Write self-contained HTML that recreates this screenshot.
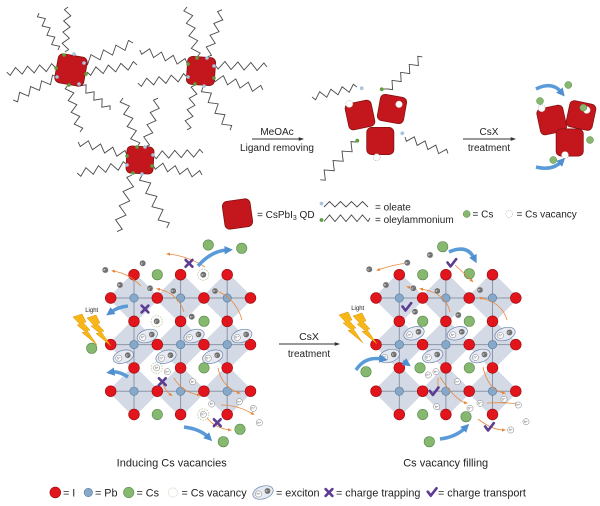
<!DOCTYPE html>
<html><head><meta charset="utf-8"><style>
html,body{margin:0;padding:0;background:#fff;}
svg{display:block;}
text{font-family:"Liberation Sans",Arial,sans-serif;fill:#222;}
</style></head><body>
<svg width="600" height="506" viewBox="0 0 600 506" xmlns="http://www.w3.org/2000/svg">
<defs>
<polyline id="z" points="0,0 3.1,3.8 9.4,-3.8 15.6,3.8 21.9,-3.8 28.1,3.8 34.4,-3.8 40.6,3.8 46.9,-3.8 50,0" fill="none" stroke="#4a4a4a" stroke-width="0.9" vector-effect="non-scaling-stroke"/>
<circle id="I" r="5.4" fill="#e3151c" stroke="#980b10" stroke-width="0.6"/>
<circle id="P" r="4.2" fill="#87a9c9" stroke="#56789a" stroke-width="0.6"/>
<circle id="C" r="5.2" fill="#86b86f" stroke="#57884a" stroke-width="0.6"/>
<circle id="c" r="3.5" fill="#86b86f" stroke="#57884a" stroke-width="0.5"/>
<circle id="V" r="5.6" fill="none" stroke="#b3bf92" stroke-width="0.7" stroke-dasharray="1.6 1.1"/>
<circle id="v" r="3.5" fill="#fff" stroke="#b0b0b0" stroke-width="0.6" stroke-dasharray="1.2 0.9"/>
<circle id="w" r="3.5" fill="#fff" stroke="#c8c8c8" stroke-width="0.5"/>
<g id="e"><circle r="3.1" fill="#6e6e6e" stroke="#eee" stroke-width="0.5"/><text y="1.2" font-size="3.4" text-anchor="middle" style="fill:#fff">e⁻</text></g>
<g id="h"><circle r="3.1" fill="#fff" stroke="#777" stroke-width="0.5"/><text y="1.2" font-size="3.4" text-anchor="middle" style="fill:#444">h⁺</text></g>
<g id="x"><ellipse rx="10.5" ry="6.3" transform="rotate(-18)" fill="#e6eaf2" stroke="#6c84ab" stroke-width="0.7"/><use href="#h" x="-4.5" y="1.5"/><use href="#e" x="4.5" y="-1.5"/></g>
<path id="T" d="M-3.4,-3.4L3.4,3.4M3.4,-3.4L-3.4,3.4" stroke="#5d3c94" stroke-width="2.6" stroke-linecap="round"/>
<path id="K" d="M-4.2,-0.8L-1.2,3.2L4.5,-4.2" fill="none" stroke="#5d3c94" stroke-width="2.6" stroke-linecap="round" stroke-linejoin="round"/>
<polygon id="dm" points="0,-26 26,0 0,26 -26,0" fill="#d4dae5"/>
<rect id="Q" x="-14" y="-14" width="28" height="28" rx="5" fill="#c3171d" stroke="#80100f" stroke-width="0.8"/>
<g id="bolt">
<polygon points="0,3 9,0 13,8 10,8.5 17,16 14,16.5 24,31 9,18.5 12.5,18 4,11 7,10.5" fill="#f7b718" stroke="#e09000" stroke-width="0.5"/>
<polygon transform="translate(14,1)" points="0,3 9,0 13,8 10,8.5 17,16 14,16.5 24,31 9,18.5 12.5,18 4,11 7,10.5" fill="#f7b718" stroke="#e09000" stroke-width="0.5"/>
<text x="18.7" y="-2" font-size="6" text-anchor="middle">Light</text>
</g>
<marker id="bh" viewBox="0 0 10 10" refX="3" refY="5" markerWidth="2.4" markerHeight="2.4" orient="auto"><path d="M0,0L10,5L0,10z" fill="#4f8fd0"/></marker>
<marker id="oh" viewBox="0 0 10 10" refX="5" refY="5" markerWidth="5" markerHeight="5" orient="auto"><path d="M0,1L10,5L0,9z" fill="#e8873a"/></marker>
<marker id="kh" viewBox="0 0 10 10" refX="8" refY="5" markerWidth="6" markerHeight="6" orient="auto"><path d="M0,1.5L10,5L0,8.5z" fill="#333"/></marker>
<g id="lat">
<use href="#dm" x="0" y="0"/><use href="#dm" x="46.6" y="0"/><use href="#dm" x="93.2" y="0"/>
<use href="#dm" x="0" y="46.6"/><use href="#dm" x="46.6" y="46.6"/><use href="#dm" x="93.2" y="46.6"/>
<use href="#dm" x="0" y="93.2"/><use href="#dm" x="46.6" y="93.2"/><use href="#dm" x="93.2" y="93.2"/>
<path d="M-23.3,0H116.5M-23.3,46.6H116.5M-23.3,93.2H116.5M0,-23.3V116.5M46.6,-23.3V116.5M93.2,-23.3V116.5" stroke="#8c96a8" stroke-width="1" fill="none"/>
<use href="#P" x="0" y="0"/><use href="#P" x="46.6" y="0"/><use href="#P" x="93.2" y="0"/>
<use href="#P" x="0" y="46.6"/><use href="#P" x="46.6" y="46.6"/><use href="#P" x="93.2" y="46.6"/>
<use href="#P" x="0" y="93.2"/><use href="#P" x="46.6" y="93.2"/><use href="#P" x="93.2" y="93.2"/>
<use href="#I" x="-23.3" y="0"/><use href="#I" x="23.3" y="0"/><use href="#I" x="69.9" y="0"/><use href="#I" x="116.5" y="0"/>
<use href="#I" x="-23.3" y="46.6"/><use href="#I" x="23.3" y="46.6"/><use href="#I" x="69.9" y="46.6"/><use href="#I" x="116.5" y="46.6"/>
<use href="#I" x="-23.3" y="93.2"/><use href="#I" x="23.3" y="93.2"/><use href="#I" x="69.9" y="93.2"/><use href="#I" x="116.5" y="93.2"/>
<use href="#I" x="0" y="-23.3"/><use href="#I" x="46.6" y="-23.3"/><use href="#I" x="93.2" y="-23.3"/>
<use href="#I" x="0" y="23.3"/><use href="#I" x="46.6" y="23.3"/><use href="#I" x="93.2" y="23.3"/>
<use href="#I" x="0" y="69.9"/><use href="#I" x="46.6" y="69.9"/><use href="#I" x="93.2" y="69.9"/>
<use href="#I" x="0" y="116.5"/><use href="#I" x="46.6" y="116.5"/><use href="#I" x="93.2" y="116.5"/>
</g>
</defs>
<rect width="600" height="506" fill="#fff"/>

<!-- ===== Top-left QDs with ligands ===== -->
<g>
<use href="#z" transform="translate(65,52) rotate(-86.2) scale(0.9)"/>
<use href="#z" transform="translate(58,50) rotate(-117.2) scale(0.83)"/>
<use href="#z" transform="translate(83,62) rotate(-20.8) scale(1.07)"/>
<use href="#z" transform="translate(87,72) rotate(-8) scale(1.01)"/>
<use href="#z" transform="translate(55,67) rotate(174) scale(0.97)"/>
<use href="#z" transform="translate(57,77) rotate(152.4) scale(0.99)"/>
<use href="#z" transform="translate(68,85) rotate(75.7) scale(0.97)"/>
<use href="#z" transform="translate(78,82) rotate(41.2) scale(0.85)"/>
<use href="#Q" transform="translate(71,70) rotate(10) scale(1.05)"/>

<use href="#z" transform="translate(197,57) rotate(-101.3) scale(1.02)"/>
<use href="#z" transform="translate(207,57) rotate(-72.3) scale(0.99)"/>
<use href="#z" transform="translate(187,63) rotate(-164.5) scale(0.98)"/>
<use href="#z" transform="translate(187,77) rotate(173) scale(0.99)"/>
<use href="#z" transform="translate(215,65) rotate(2.2) scale(1.04)"/>
<use href="#z" transform="translate(213,77) rotate(14.6) scale(1.03)"/>
<use href="#z" transform="translate(195,85) rotate(100) scale(0.91)"/>
<use href="#z" transform="translate(203,87) rotate(57.9) scale(1.02)"/>
<use href="#Q" transform="translate(201,71) rotate(4)"/>

<use href="#z" transform="translate(137,147) rotate(-105.9) scale(1.02)"/>
<use href="#z" transform="translate(145,147) rotate(-75.1) scale(1.01)"/>
<use href="#z" transform="translate(127,155) rotate(-165.1) scale(1.01)"/>
<use href="#z" transform="translate(127,165) rotate(170.9) scale(1.01)"/>
<use href="#z" transform="translate(153,155) rotate(-2.3) scale(1)"/>
<use href="#z" transform="translate(153,165) rotate(11.5) scale(1)"/>
<use href="#z" transform="translate(132,175) rotate(104.8) scale(1.17)"/>
<use href="#z" transform="translate(142,175) rotate(64.9) scale(1.17)"/>
<use href="#Q" transform="translate(140,160) rotate(3) scale(0.97)"/>

<g fill="#5e9e3e">
<circle cx="64" cy="55" r="1.8"/><circle cx="86" cy="74" r="1.8"/><circle cx="56" cy="68" r="1.8"/><circle cx="69" cy="85" r="1.8"/>
<circle cx="197" cy="58" r="1.8"/><circle cx="214" cy="78" r="1.8"/><circle cx="188" cy="64" r="1.8"/><circle cx="195" cy="84" r="1.8"/>
<circle cx="137" cy="147" r="1.8"/><circle cx="152" cy="166" r="1.8"/><circle cx="127" cy="156" r="1.8"/><circle cx="133" cy="173" r="1.8"/>
</g>
<g fill="#a9c4e0">
<circle cx="74" cy="54" r="1.8"/><circle cx="84" cy="63" r="1.8"/><circle cx="57" cy="77" r="1.8"/><circle cx="79" cy="84" r="1.8"/>
<circle cx="207" cy="58" r="1.8"/><circle cx="214" cy="66" r="1.8"/><circle cx="188" cy="77" r="1.8"/><circle cx="204" cy="86" r="1.8"/>
<circle cx="145" cy="147" r="1.8"/><circle cx="153" cy="155" r="1.8"/><circle cx="127" cy="165" r="1.8"/><circle cx="142" cy="174" r="1.8"/>
</g>
</g>

<!-- ===== Arrow 1 ===== -->
<path d="M252,139H303" stroke="#333" stroke-width="0.9" marker-end="url(#kh)"/>
<text x="277" y="135" font-size="10" text-anchor="middle">MeOAc</text>
<text x="277" y="151" font-size="10" text-anchor="middle">Ligand removing</text>

<!-- ===== Middle cluster ===== -->
<use href="#z" transform="translate(312,97) rotate(-12.5) scale(0.92)"/>
<use href="#z" transform="translate(388,89) rotate(-43) scale(0.94)"/>
<path d="M382,89H388" stroke="#4a4a4a" stroke-width="0.9"/>
<use href="#z" transform="translate(356,142) rotate(133.4) scale(1.04)"/>
<use href="#z" transform="translate(405,137) rotate(21) scale(0.92)"/>
<circle cx="361.7" cy="88.3" r="1.9" fill="#a9c4e0"/>
<circle cx="381.7" cy="89.3" r="1.9" fill="#5e9e3e"/>
<circle cx="357.3" cy="140.7" r="1.9" fill="#5e9e3e"/>
<circle cx="402.3" cy="133.3" r="1.9" fill="#a9c4e0"/>
<use href="#Q" transform="translate(360,115) rotate(-12) scale(0.95)"/>
<use href="#Q" transform="translate(392,109) rotate(10) scale(0.95)"/>
<use href="#Q" transform="translate(380.3,141) scale(0.97)"/>
<circle cx="399" cy="104.3" r="3.3" fill="#fff" stroke="#ddd" stroke-width="0.4"/>
<use href="#v" x="349.3" y="104"/>
<use href="#v" x="376.7" y="157.3"/>

<!-- ===== Arrow 2 ===== -->
<path d="M463,139H515" stroke="#333" stroke-width="0.9" marker-end="url(#kh)"/>
<text x="489" y="135" font-size="10" text-anchor="middle">CsX</text>
<text x="489" y="151" font-size="10" text-anchor="middle">treatment</text>

<!-- ===== Right cluster ===== -->
<use href="#Q" transform="translate(551.7,120) rotate(-12) scale(0.95)"/>
<use href="#Q" transform="translate(581,115.5) rotate(12) scale(0.95)"/>
<use href="#Q" transform="translate(569.7,142.5) scale(0.97)"/>
<use href="#v" x="541.7" y="108.3"/>
<use href="#w" x="586.7" y="110"/>
<use href="#v" x="565" y="155"/>
<use href="#c" x="568.3" y="85"/>
<use href="#c" x="540" y="101"/>
<use href="#c" x="583.3" y="107.7"/>
<use href="#c" x="590" y="140"/>
<use href="#c" x="553.3" y="160"/>
<path d="M536,89 Q552,81 561,92" fill="none" stroke="#5a9ad8" stroke-width="3.5" marker-end="url(#bh)"/>
<path d="M536,167 Q552,171 561,162" fill="none" stroke="#5a9ad8" stroke-width="3.5" marker-end="url(#bh)"/>

<!-- ===== Top legend ===== -->
<use href="#Q" transform="translate(237.5,214) rotate(-8)"/>
<text x="257" y="218" font-size="10">= CsPbI<tspan font-size="7" dy="2">3</tspan><tspan dy="-2"> QD</tspan></text>
<polyline points="324,207 329.5,201.5 335,207 340.5,201.5 346,207 351.5,201.5 357,207 362.5,201.5 368,207" fill="none" stroke="#4a4a4a" stroke-width="0.9"/>
<circle cx="321.5" cy="203.5" r="1.9" fill="#a9c4e0"/>
<polyline points="324,221.5 329.5,215 335,221.5 340.5,215 346,221.5 351.5,215 357,221.5 362.5,215 368,221.5 370,218" fill="none" stroke="#4a4a4a" stroke-width="0.9"/>
<circle cx="321.5" cy="220" r="1.9" fill="#5e9e3e"/>
<text x="375" y="210.5" font-size="10">= oleate</text>
<text x="375" y="223" font-size="10">= oleylammonium</text>
<use href="#c" x="466.7" y="214"/>
<text x="472.5" y="217.5" font-size="10">= Cs</text>
<use href="#v" x="509.3" y="214"/>
<text x="516.5" y="217.5" font-size="10">= Cs vacancy</text>

<!-- ===== Left lattice ===== -->
<use href="#lat" x="134" y="298"/>
<use href="#C" x="157.3" y="274.7"/>
<use href="#C" x="204" y="321.3"/>
<use href="#C" x="204" y="367.9"/>
<use href="#C" x="157.3" y="414.5"/>
<use href="#C" x="91.7" y="348.3"/>
<use href="#C" x="208.3" y="245"/>
<use href="#C" x="241.7" y="248.3"/>
<use href="#C" x="240" y="429.3"/>
<use href="#C" x="223.3" y="441.7"/>
<use href="#V" x="203.3" y="274.7"/>
<use href="#V" x="156.7" y="321.3"/>
<use href="#V" x="156.7" y="367.9"/>
<use href="#V" x="203.3" y="414.5"/>
<g fill="none" stroke="#e8873a" stroke-width="0.8" marker-end="url(#oh)">
<path d="M205,267 Q188,256 168,254"/>
<path d="M141,286 Q128,273 113,271"/>
<path d="M184,312 Q178,293 158,289"/>
<path d="M242,320 Q236,298 215,290"/>
<path d="M163,384 Q166,392 171,395"/>
<path d="M174,378 Q182,392 199,395"/>
<path d="M218,368 Q222,387 239,393"/>
<path d="M221,405 Q238,405 253,414"/>
<path d="M207,418 Q215,428 230,430"/>
</g>
<use href="#e" x="203.3" y="274.7"/>
<use href="#e" x="142.7" y="263.3"/>
<use href="#e" x="105.3" y="270"/>
<use href="#e" x="120" y="285"/>
<use href="#e" x="150" y="288.3"/>
<use href="#e" x="173.3" y="291"/>
<use href="#e" x="215" y="291"/>
<use href="#e" x="191.7" y="316.7"/>
<use href="#e" x="156.7" y="321.3"/>
<use href="#x" x="147.3" y="336"/>
<use href="#x" x="194" y="336"/>
<use href="#x" x="241.7" y="336"/>
<use href="#x" x="123.3" y="356.7"/>
<use href="#x" x="166" y="356.7"/>
<use href="#x" x="212.7" y="356.7"/>
<use href="#h" x="156.7" y="367.9"/>
<use href="#h" x="167.3" y="371.7"/>
<use href="#h" x="192.7" y="381.7"/>
<use href="#h" x="211.7" y="404"/>
<use href="#h" x="239.3" y="401.7"/>
<use href="#h" x="253.3" y="408.3"/>
<use href="#h" x="203.3" y="414.5"/>
<use href="#h" x="259.3" y="422.7"/>
<use href="#T" x="189" y="263.3"/>
<use href="#T" x="145" y="309"/>
<use href="#T" x="162.3" y="381.7"/>
<use href="#T" x="217.3" y="422.7"/>
<g fill="none" stroke="#5a9ad8" stroke-width="3.5" marker-end="url(#bh)">
<path d="M198,266 Q211,251 227,250"/>
<path d="M128,306 Q118,307 111,312"/>
<path d="M128,377 Q119,371 112,372"/>
<path d="M184,427 Q200,429 208,437"/>
</g>
<use href="#bolt" x="73" y="314"/>

<!-- ===== Middle arrow ===== -->
<path d="M279,344H339" stroke="#333" stroke-width="0.9" marker-end="url(#kh)"/>
<text x="309" y="340" font-size="10.5" text-anchor="middle">CsX</text>
<text x="309" y="357" font-size="10" text-anchor="middle">treatment</text>

<!-- ===== Right lattice ===== -->
<use href="#lat" x="399.3" y="298"/>
<use href="#C" x="442.7" y="246.7"/>
<use href="#C" x="469.3" y="273.7"/>
<use href="#C" x="422.7" y="274.7"/>
<use href="#C" x="422.7" y="321.3"/>
<use href="#C" x="469.3" y="321.3"/>
<use href="#C" x="420" y="367.9"/>
<use href="#C" x="469.3" y="367.9"/>
<use href="#C" x="366" y="371.7"/>
<use href="#C" x="422.7" y="414.5"/>
<use href="#C" x="466" y="416.7"/>
<use href="#C" x="429.3" y="441.7"/>
<g fill="none" stroke="#e8873a" stroke-width="0.8" marker-end="url(#oh)">
<path d="M407,263 Q392,265 378,270"/>
<path d="M455,265 Q466,275 472,281"/>
<path d="M450,312 Q446,293 421,289"/>
<path d="M507,320 Q502,302 480,298"/>
<path d="M417,290 L408,287"/>
<path d="M438,378 L438,389"/>
<path d="M440,377 Q455,400 466,403"/>
<path d="M483,367 Q488,390 504,393"/>
<path d="M487,403 Q505,402 517,404"/>
<path d="M478,419 Q492,430 504,430"/>
</g>
<use href="#e" x="430" y="255"/>
<use href="#e" x="407.3" y="262.7"/>
<use href="#e" x="369.3" y="269.3"/>
<use href="#e" x="386" y="285"/>
<use href="#e" x="413.3" y="288.3"/>
<use href="#e" x="437.3" y="291"/>
<use href="#e" x="480" y="290"/>
<use href="#e" x="415" y="311.7"/>
<use href="#e" x="458.3" y="315"/>
<use href="#x" x="414" y="333.3"/>
<use href="#x" x="457.3" y="333.3"/>
<use href="#x" x="505" y="334"/>
<use href="#x" x="389.3" y="356"/>
<use href="#x" x="432.7" y="356"/>
<use href="#x" x="480" y="356"/>
<use href="#h" x="428.3" y="375"/>
<use href="#h" x="436" y="371.7"/>
<use href="#h" x="457.3" y="381.7"/>
<use href="#h" x="436.7" y="406.7"/>
<use href="#h" x="470" y="408.3"/>
<use href="#h" x="480" y="403.3"/>
<use href="#h" x="504" y="399.3"/>
<use href="#h" x="518.3" y="405"/>
<use href="#h" x="526" y="421.7"/>
<use href="#h" x="510.7" y="430"/>
<use href="#K" x="451.7" y="263.3"/>
<use href="#K" x="406.7" y="307.3"/>
<use href="#K" x="434" y="391.7"/>
<use href="#K" x="489.3" y="427.3"/>
<g fill="none" stroke="#5a9ad8" stroke-width="3.5" marker-end="url(#bh)">
<path d="M449,252 Q467,244 474,258"/>
<path d="M356,370 Q365,356 382,359"/>
<path d="M403,361 L406,363"/>
<path d="M440,439 Q456,437 465,428"/>
</g>
<use href="#bolt" x="339" y="312"/>

<!-- ===== Lattice labels ===== -->
<text x="171.7" y="466.7" font-size="11" text-anchor="middle">Inducing Cs vacancies</text>
<text x="445.7" y="466.7" font-size="11" text-anchor="middle">Cs vacancy filling</text>

<!-- ===== Bottom legend ===== -->
<use href="#I" x="55.3" y="492.5"/>
<text x="63" y="496.5" font-size="10.8">= I</text>
<use href="#P" x="88.3" y="492.5"/>
<text x="95" y="496.5" font-size="10.8">= Pb</text>
<use href="#C" x="128.7" y="492.5"/>
<text x="136.5" y="496.5" font-size="10.8">= Cs</text>
<circle cx="172.8" cy="492.5" r="4.6" fill="#fff" stroke="#c9cfb5" stroke-width="0.7" stroke-dasharray="1.4 1"/>
<text x="181.5" y="496.5" font-size="10.8">= Cs vacancy</text>
<use href="#x" x="263" y="492.5"/>
<text x="276" y="496.5" font-size="10.8">= exciton</text>
<use href="#T" x="329" y="492.5"/>
<text x="336" y="496.5" font-size="10.8">= charge trapping</text>
<use href="#K" x="432" y="492.5"/>
<text x="438" y="496.5" font-size="10.8">= charge transport</text>
</svg>
</body></html>
